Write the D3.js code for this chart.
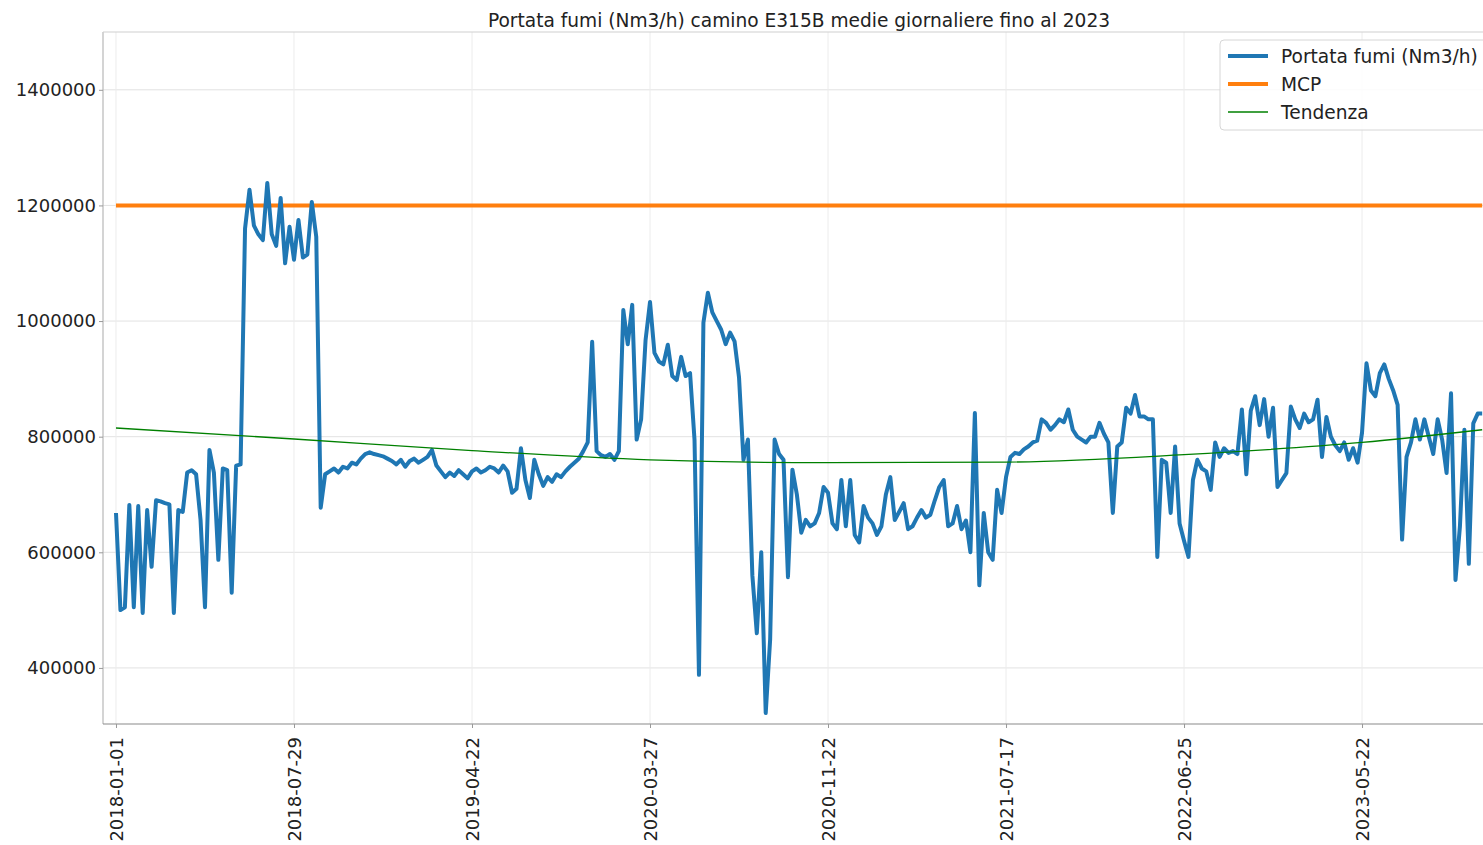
<!DOCTYPE html>
<html>
<head>
<meta charset="utf-8">
<script src="https://cdn.jsdelivr.net/npm/d3@7"></script>
<style>
  html, body { margin: 0; padding: 0; background: #fff; }
  svg { display: block; font-family: "DejaVu Sans", sans-serif; }
</style>
</head>
<body>
<script>
// ---------- data ----------
const chartTitle = "Portata fumi (Nm3/h) camino E315B medie giornaliere fino al 2023";
const tickLabels = ["2018-01-01","2018-07-29","2019-04-22","2020-03-27","2020-11-22","2021-07-17","2022-06-25","2023-05-22"];
const tickEvery = 200;   // observations between labelled ticks
const sampleStep = 5;    // observations between stored samples
const yTicks = [400000, 600000, 800000, 1000000, 1200000, 1400000];
const seriesNames = ["Portata fumi (Nm3/h)", "MCP", "Tendenza"];

// Portata fumi (Nm3/h), one value every `sampleStep` observations
const portata = [
 668000,500000,505000,682000,505000,680000,495000,673000,575000,690000,
 688000,685000,683000,495000,673000,670000,738000,742000,735000,656000,
 505000,777000,738000,587000,745000,742000,530000,750000,752000,1160000,
 1227000,1165000,1150000,1140000,1239000,1150000,1130000,1213000,1100000,1163000,
 1106000,1175000,1110000,1115000,1206000,1146000,677000,735000,740000,745000,
 738000,748000,745000,755000,752000,762000,770000,773000,770000,768000,
 766000,762000,758000,752000,760000,748000,758000,762000,755000,760000,
 765000,777000,750000,740000,730000,738000,732000,742000,735000,728000,
 740000,745000,738000,742000,748000,745000,738000,750000,740000,703000,
 710000,780000,725000,694000,760000,735000,715000,730000,722000,735000,
 730000,740000,748000,755000,762000,775000,790000,964000,775000,768000,
 765000,770000,760000,775000,1019000,960000,1028000,795000,830000,967000,
 1033000,945000,930000,925000,959000,905000,898000,938000,905000,910000,
 795000,388000,997000,1049000,1015000,1000000,985000,960000,980000,965000,
 903000,760000,795000,560000,460000,600000,322000,450000,795000,770000,
 760000,557000,743000,700000,634000,656000,645000,650000,668000,713000,
 703000,650000,640000,725000,645000,725000,630000,617000,680000,660000,
 650000,630000,645000,700000,730000,656000,670000,685000,640000,645000,
 660000,673000,660000,665000,690000,713000,725000,645000,650000,680000,
 640000,655000,600000,841000,543000,668000,600000,587000,708000,668000,
 730000,765000,772000,770000,778000,783000,790000,793000,830000,824000,
 812000,820000,830000,825000,847000,812000,800000,795000,790000,800000,
 800000,824000,805000,790000,668000,783000,790000,850000,840000,872000,
 835000,835000,830000,830000,592000,760000,755000,668000,783000,650000,
 620000,592000,725000,760000,745000,740000,708000,790000,765000,780000,
 772000,775000,770000,847000,735000,845000,870000,820000,865000,800000,
 850000,713000,725000,737000,852000,830000,815000,840000,825000,830000,
 864000,765000,834000,800000,785000,775000,790000,760000,780000,755000,
 807000,927000,880000,870000,910000,925000,900000,880000,855000,622000,
 765000,790000,830000,795000,830000,800000,770000,830000,795000,737000,
 875000,552000,645000,812000,580000,823000,840000,840000
];

// MCP threshold
const mcpValue = 1200000;

// Tendenza (trend), read at sparse observation indices
const trendIndex  = [0, 200, 400, 600, 800, 1000, 1200, 1400, 1535];
const trendValues = [815000, 796000, 776000, 760000, 755000, 756000, 769000, 790000, 812000];

// ---------- drawing ----------
const W = 1483, H = 845;
const plot = { left: 103, top: 32, right: 1495, bottom: 724 };
const colors = { portata: "#1f77b4", mcp: "#ff7f0e", trend: "#008000" };

const svg = d3.select("body").append("svg").attr("width", W).attr("height", H);

const lastIdx = (portata.length - 1) * sampleStep;
const x = d3.scaleLinear().domain([-14.6, 1549.4]).range([plot.left, plot.right]);
const y = d3.scaleLinear().domain([303000, 1500000]).range([plot.bottom, plot.top]);

const xTickVals = tickLabels.map((_, i) => i * tickEvery);

// grid
const grid = svg.append("g");
grid.selectAll("line.h").data(yTicks).join("line")
  .attr("x1", plot.left).attr("x2", plot.right)
  .attr("y1", d => y(d)).attr("y2", d => y(d))
  .attr("stroke", "#e2e2e2").attr("stroke-width", 1);
grid.selectAll("line.v").data(xTickVals).join("line")
  .attr("x1", d => x(d)).attr("x2", d => x(d))
  .attr("y1", plot.top).attr("y2", plot.bottom)
  .attr("stroke", "#ececec").attr("stroke-width", 1);

// MCP
const mcpData = [0, lastIdx].map(i => ({ i, v: mcpValue }));
svg.append("path").datum(mcpData)
  .attr("fill", "none").attr("stroke", colors.mcp).attr("stroke-width", 4)
  .attr("d", d3.line().x(d => x(d.i)).y(d => y(d.v)));

// Portata
svg.append("path").datum(portata.map((v, k) => ({ i: k * sampleStep, v })))
  .attr("fill", "none").attr("stroke", colors.portata).attr("stroke-width", 4)
  .attr("stroke-linejoin", "round")
  .attr("d", d3.line().x(d => x(d.i)).y(d => y(d.v)));

// Trend
svg.append("path").datum(trendIndex.map((i, n) => ({ i, v: trendValues[n] })))
  .attr("fill", "none").attr("stroke", colors.trend).attr("stroke-width", 1.3)
  .attr("d", d3.line().curve(d3.curveMonotoneX).x(d => x(d.i)).y(d => y(d.v)));

// spines
svg.append("line").attr("x1", plot.left).attr("x2", plot.left).attr("y1", plot.top).attr("y2", plot.bottom)
  .attr("stroke", "#b8b8b8").attr("stroke-width", 1.2);
svg.append("line").attr("x1", plot.left).attr("x2", plot.right).attr("y1", plot.top).attr("y2", plot.top)
  .attr("stroke", "#d0d0d0").attr("stroke-width", 1.2);
svg.append("line").attr("x1", plot.left).attr("x2", plot.right).attr("y1", plot.bottom).attr("y2", plot.bottom)
  .attr("stroke", "#8a8a8a").attr("stroke-width", 1.2);

// y axis
const yAxis = svg.append("g").attr("transform", `translate(${plot.left},0)`)
  .call(d3.axisLeft(y).tickValues(yTicks).tickFormat(d3.format("d")).tickSize(4).tickPadding(3));
yAxis.select(".domain").remove();
yAxis.selectAll(".tick line").attr("stroke", "#999");
yAxis.selectAll("text").attr("font-size", 18).attr("fill", "#222").attr("font-family", "DejaVu Sans");

// x axis
const xAxis = svg.append("g").attr("transform", `translate(0,${plot.bottom})`)
  .call(d3.axisBottom(x).tickValues(xTickVals).tickFormat((d, i) => tickLabels[i]).tickSize(4));
xAxis.select(".domain").remove();
xAxis.selectAll(".tick line").attr("stroke", "#999");
xAxis.selectAll("text")
  .attr("font-size", 18).attr("fill", "#222").attr("font-family", "DejaVu Sans")
  .attr("transform", "rotate(-90)")
  .attr("text-anchor", "end")
  .attr("x", -13).attr("y", 0).attr("dy", "0.36em");

// title
svg.append("text").attr("x", (plot.left + plot.right) / 2).attr("y", 27)
  .attr("text-anchor", "middle").attr("font-size", 18.6).attr("fill", "#222")
  .text(chartTitle);

// legend
const lg = svg.append("g").attr("transform", "translate(1220,40)");
lg.append("rect").attr("x", 0).attr("y", 0).attr("width", 290).attr("height", 90).attr("rx", 4)
  .attr("fill", "#fff").attr("fill-opacity", 0.85).attr("stroke", "#d6d6d6");
const legendRows = [
  { name: seriesNames[0], color: colors.portata, w: 4 },
  { name: seriesNames[1], color: colors.mcp, w: 4 },
  { name: seriesNames[2], color: colors.trend, w: 1.3 }
];
legendRows.forEach((r, n) => {
  const cy = 16 + n * 28;
  lg.append("line").attr("x1", 8).attr("x2", 48).attr("y1", cy).attr("y2", cy)
    .attr("stroke", r.color).attr("stroke-width", r.w);
  lg.append("text").attr("x", 61).attr("y", cy).attr("dy", "0.36em")
    .attr("font-size", 18.6).attr("fill", "#222").text(r.name);
});
</script>
</body>
</html>
